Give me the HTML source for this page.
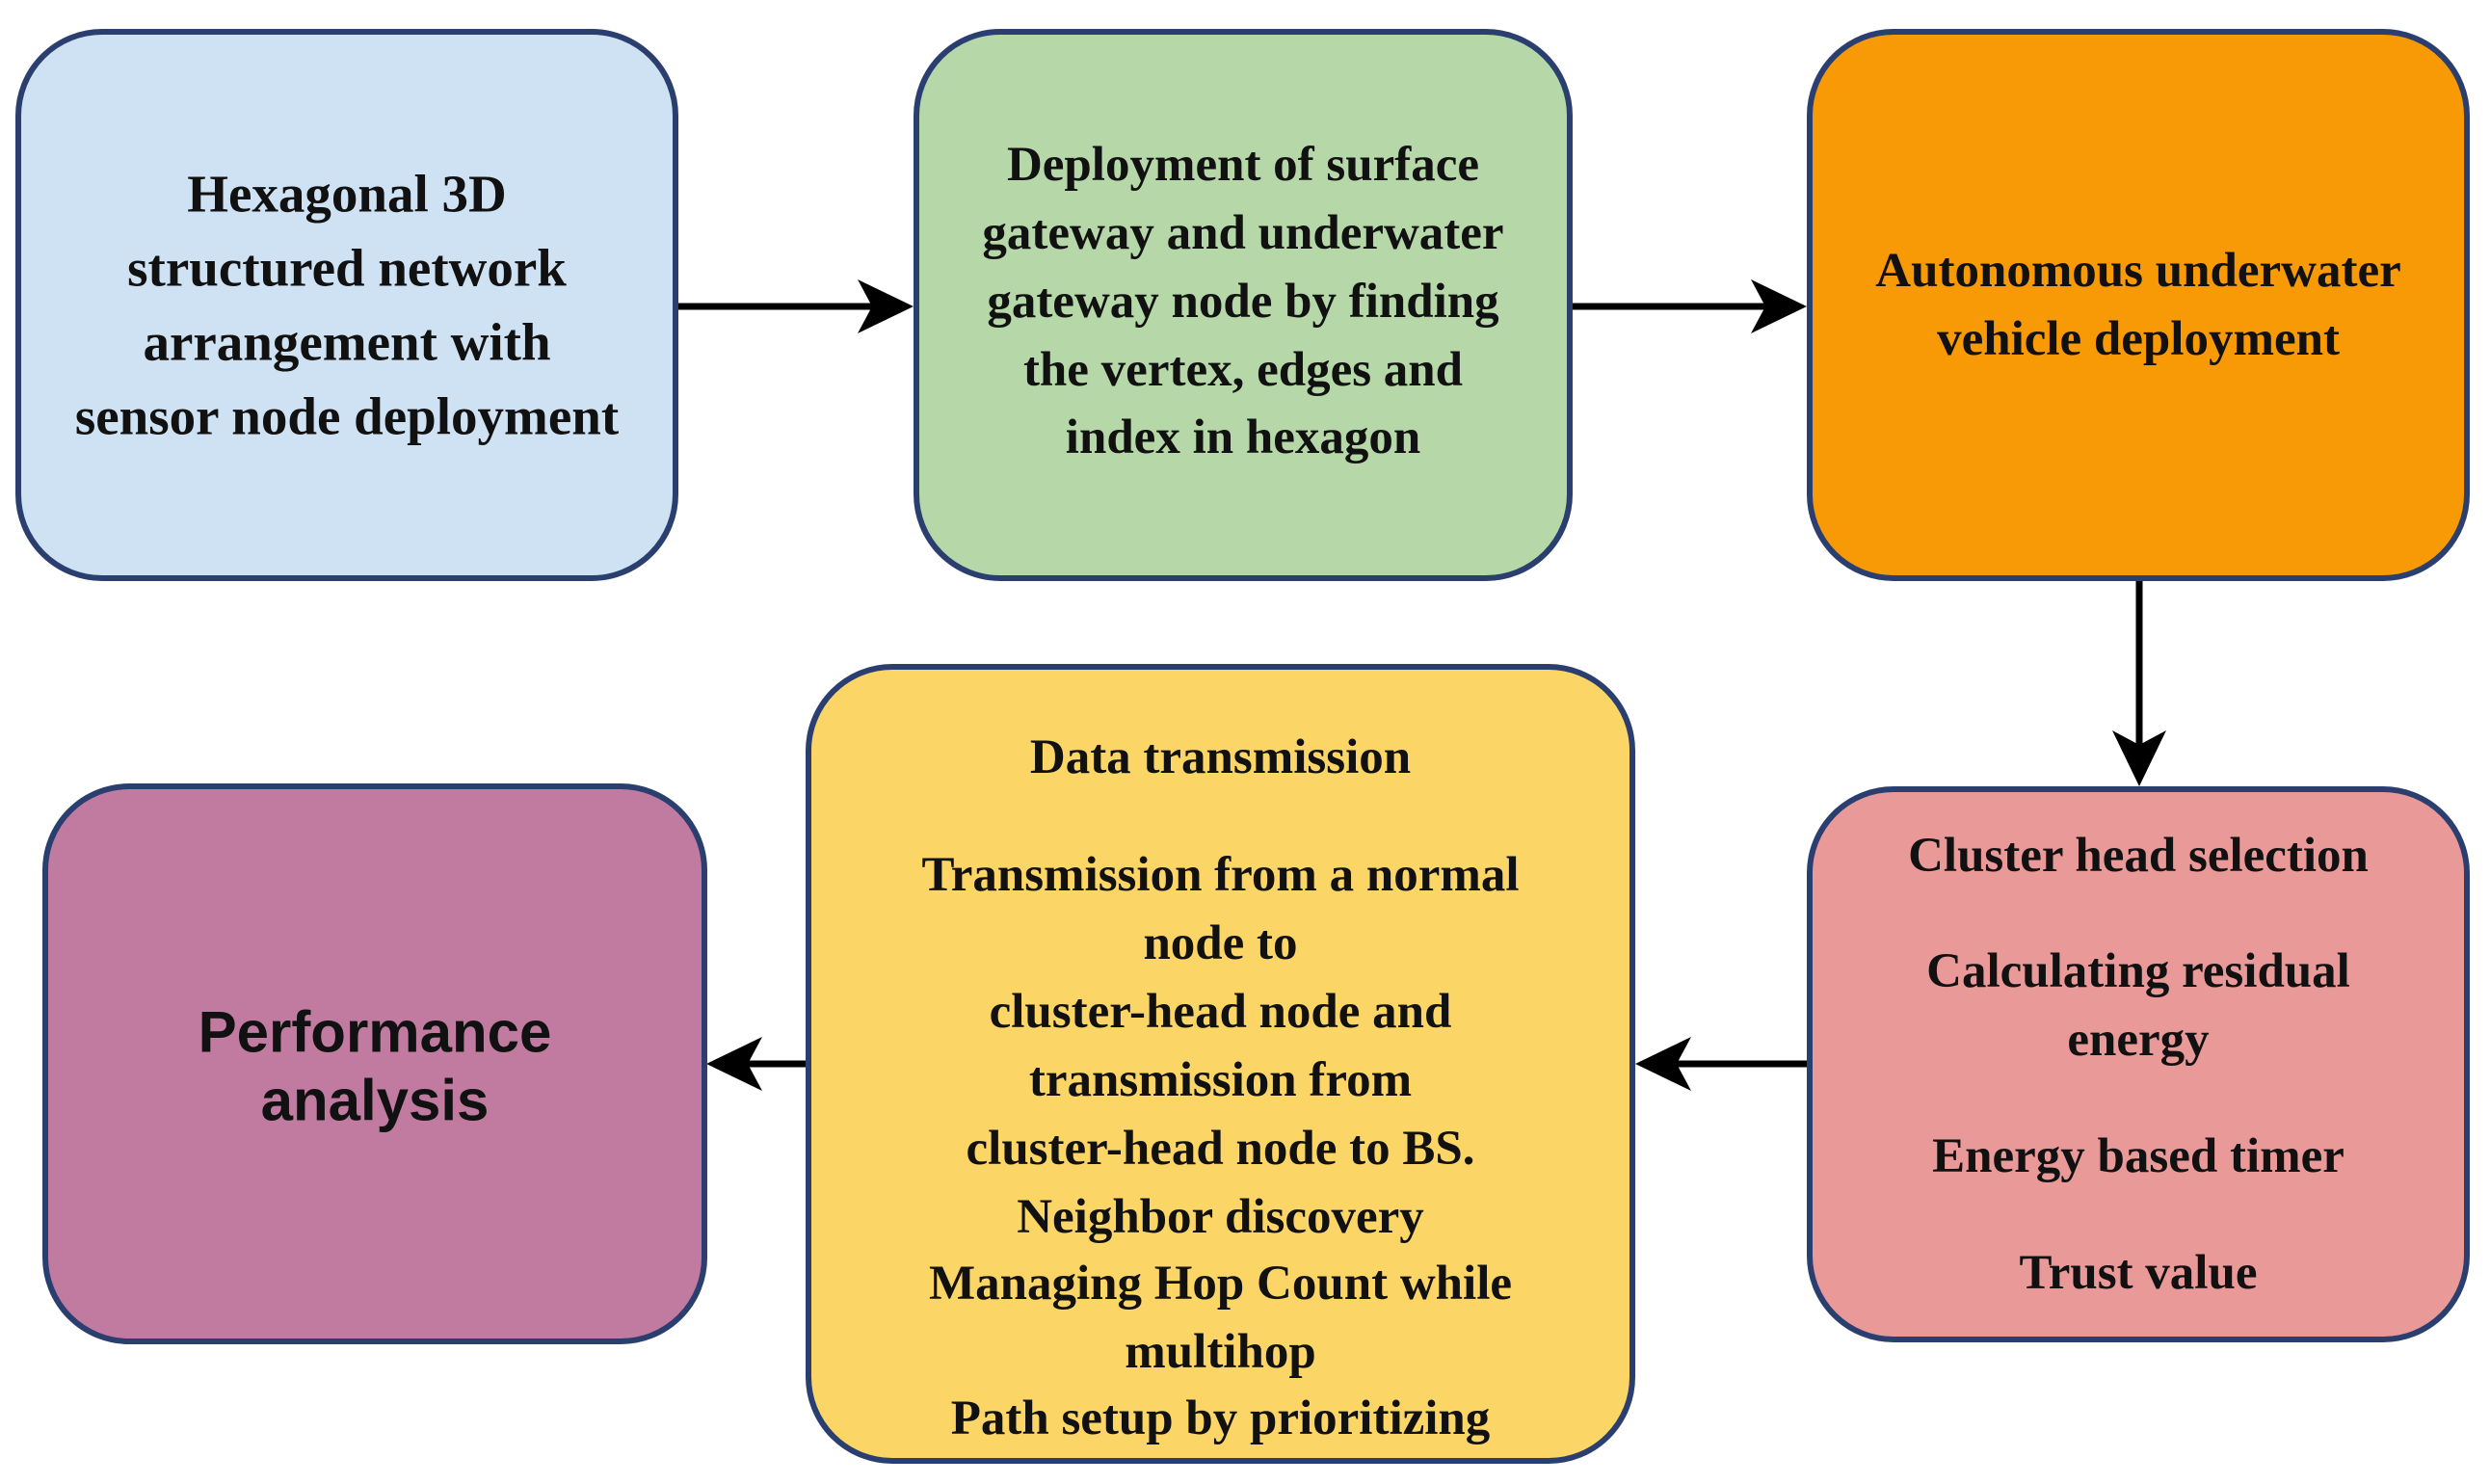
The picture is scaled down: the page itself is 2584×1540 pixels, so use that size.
<!DOCTYPE html>
<html><head><meta charset="utf-8"><style>
html,body{margin:0;padding:0;background:#fff}
body{width:2584px;height:1540px;position:relative;overflow:hidden}
.b{position:absolute;box-sizing:border-box;border:6px solid #2a3f6f;border-radius:90px}
.t{position:absolute;left:-40px;right:-40px;text-align:center;font-family:"Liberation Serif",serif;font-weight:bold;font-size:51px;color:#111;white-space:nowrap;transform:translateY(-50%)}
.s{font-family:"Liberation Sans",sans-serif;font-size:60px}
.big{font-size:55px}
</style></head><body>
<svg width="2584" height="1540" style="position:absolute;left:0;top:0">
<g stroke="#000" stroke-width="7" fill="#000">
<line x1="704" y1="318" x2="930" y2="318"/>
<path d="M948 318 L890 290 L905 318 L890 346 Z" stroke="none"/>
<line x1="1632" y1="318" x2="1857" y2="318"/>
<path d="M1875 318 L1817 290 L1832 318 L1817 346 Z" stroke="none"/>
<line x1="2220" y1="603" x2="2220" y2="800"/>
<path d="M2220 816 L2192 758 L2220 773 L2248 758 Z" stroke="none"/>
<line x1="1875" y1="1104" x2="1712" y2="1104"/>
<path d="M1697 1104 L1755 1076 L1740 1104 L1755 1132 Z" stroke="none"/>
<line x1="836" y1="1104" x2="748" y2="1104"/>
<path d="M733 1104 L791 1076 L776 1104 L791 1132 Z" stroke="none"/>
</g></svg>

<div class="b" style="left:16px;top:30px;width:688px;height:573px;background:#cfe2f3">
<div class="t big" style="top:165px">Hexagonal 3D</div>
<div class="t big" style="top:242px">structured network</div>
<div class="t big" style="top:319px">arrangement with</div>
<div class="t big" style="top:396px">sensor node deployment</div>
</div>
<div class="b" style="left:948px;top:30px;width:684px;height:573px;background:#b6d7a8">
<div class="t" style="top:135px">Deployment of surface</div>
<div class="t" style="top:206px">gateway and underwater</div>
<div class="t" style="top:277px">gateway node by finding</div>
<div class="t" style="top:348px">the vertex, edges and</div>
<div class="t" style="top:418px">index in hexagon</div>
</div>
<div class="b" style="left:1875px;top:30px;width:688px;height:573px;background:#f89a05">
<div class="t" style="top:245px">Autonomous underwater</div>
<div class="t" style="top:316px">vehicle deployment</div>
</div>
<div class="b" style="left:1875px;top:816px;width:688px;height:577px;background:#ea9999">
<div class="t" style="top:66px">Cluster head selection</div>
<div class="t" style="top:186px">Calculating residual</div>
<div class="t" style="top:257px">energy</div>
<div class="t" style="top:378px">Energy based timer</div>
<div class="t" style="top:499px">Trust value</div>
</div>
<div class="b" style="left:836px;top:689px;width:861px;height:830px;background:#fbd666">
<div class="t" style="top:91px">Data transmission</div>
<div class="t" style="top:213px">Transmission from a normal</div>
<div class="t" style="top:284px">node to</div>
<div class="t" style="top:355px">cluster-head node and</div>
<div class="t" style="top:426px">transmission from</div>
<div class="t" style="top:497px">cluster-head node to BS.</div>
<div class="t" style="top:568px">Neighbor discovery</div>
<div class="t" style="top:637px">Managing Hop Count while</div>
<div class="t" style="top:708px">multihop</div>
<div class="t" style="top:777px">Path setup by prioritizing</div>
</div>
<div class="b" style="left:44px;top:813px;width:690px;height:582px;background:#c27ba0">
<div class="t s" style="top:252px">Performance</div>
<div class="t s" style="top:323px">analysis</div>
</div>
</body></html>
